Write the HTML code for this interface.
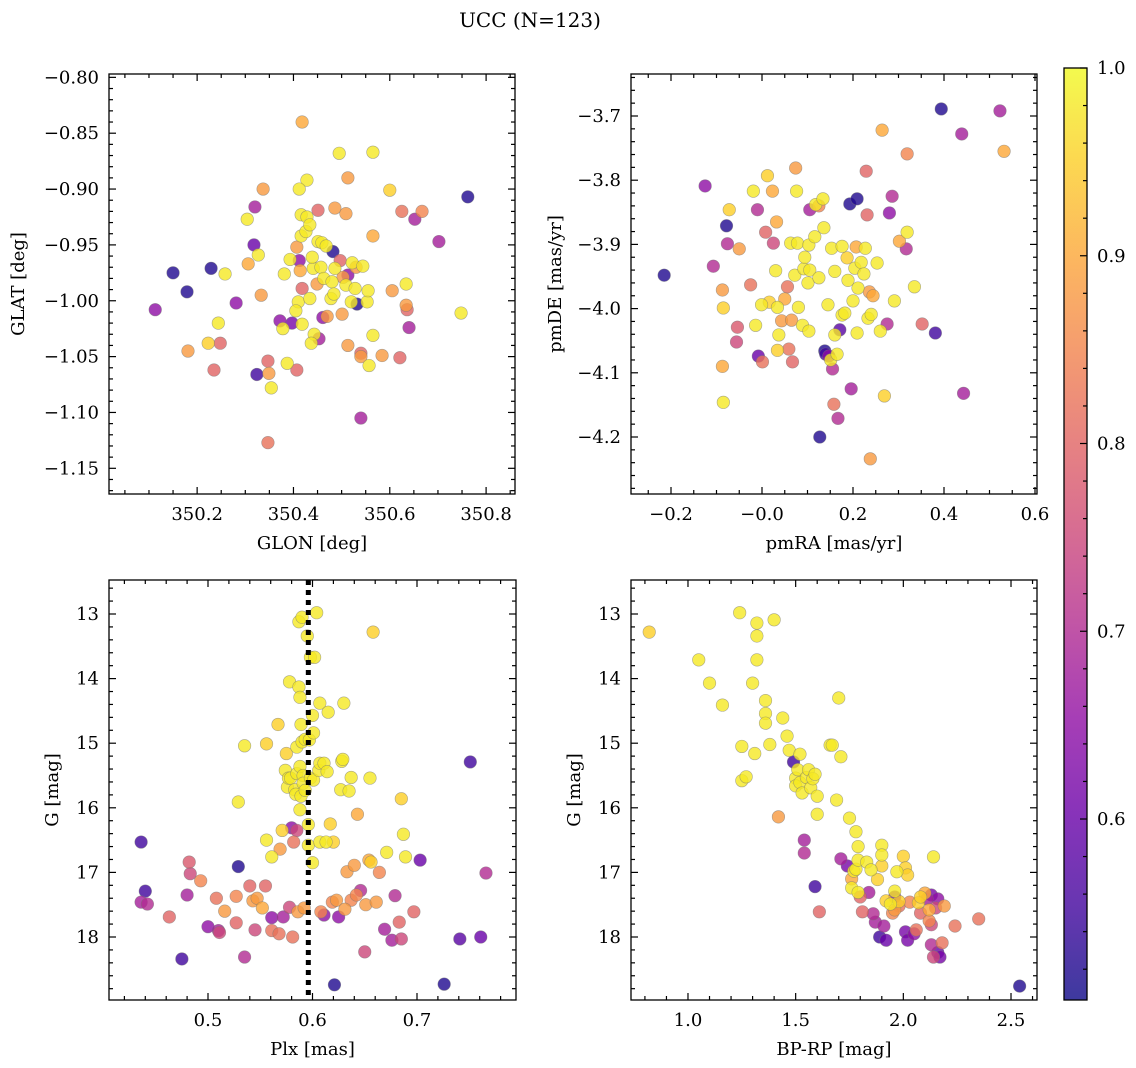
<!DOCTYPE html>
<html><head><meta charset="utf-8"><style>
html,body{margin:0;padding:0;background:#fff;}
svg{display:block;font-family:"DejaVu Serif","Liberation Serif",serif;}
</style></head><body>
<svg id="fig" width="1136" height="1068" viewBox="0 0 1136 1068" xmlns="http://www.w3.org/2000/svg">
<defs>
<linearGradient id="cbgrad" x1="0" y1="1" x2="0" y2="0"></linearGradient>
</defs>
<text x="530" y="27" font-size="20" text-anchor="middle">UCC (N=123)</text>
<g id="layer"></g>
</svg>
<script>
// ---- Panel data ----
const glon = [350.113,350.150,350.179,350.181,350.229,350.235,350.223,350.244,350.248,350.258,350.281,350.304,350.320,350.318,350.327,350.306,350.337,350.333,350.347,350.349,350.324,350.354,350.347,350.387,350.407,350.372,350.397,350.378,350.418,350.418,350.428,350.412,350.416,350.428,350.451,350.486,350.509,350.513,350.495,350.565,350.600,350.625,350.652,350.667,350.702,350.762,350.748,350.416,350.565,350.482,350.532,350.553,350.634,350.605,350.634,350.636,350.640,350.470,350.461,350.501,350.443,350.437,350.453,350.565,350.513,350.540,350.540,350.584,350.557,350.621,350.540,
350.407,350.412,350.414,350.418,350.410,350.441,350.449,350.451,350.459,350.457,350.463,350.468,350.480,350.478,350.486,350.484,350.503,350.513,350.509,350.522,350.530,350.528,350.520,350.544,350.555,350.434,350.497,350.439,350.426,350.434,350.393,350.381,350.405];
const glat = [-1.008,-0.975,-0.992,-1.045,-0.971,-1.062,-1.038,-1.020,-1.038,-0.976,-1.002,-0.927,-0.916,-0.950,-0.959,-0.967,-0.900,-0.995,-1.054,-1.065,-1.066,-1.078,-1.127,-1.056,-1.062,-1.018,-1.020,-1.025,-1.021,-0.840,-0.892,-0.900,-0.923,-0.925,-0.919,-0.917,-0.922,-0.890,-0.868,-0.867,-0.901,-0.920,-0.927,-0.920,-0.947,-0.907,-1.011,-0.942,-0.942,-0.956,-1.003,-1.001,-0.985,-0.991,-1.004,-1.008,-1.024,-1.014,-1.015,-1.012,-1.030,-1.038,-1.034,-1.031,-1.040,-1.047,-1.050,-1.049,-1.058,-1.051,-1.105,
-0.952,-0.964,-0.973,-0.989,-1.001,-0.971,-0.985,-0.947,-0.948,-0.970,-0.980,-0.951,-0.983,-0.998,-0.971,-0.994,-0.979,-0.977,-0.986,-0.966,-0.970,-0.989,-1.001,-0.969,-0.991,-0.998,-0.964,-0.961,-0.938,-0.932,-0.963,-0.976,-1.009];
const prob1 = [.65,.52,.52,.88,.52,.8,.95,.98,.8,.98,.65,.98,.68,.6,.98,.9,.88,.88,.8,.88,.55,.98,.82,.98,.8,.65,.62,.98,.98,.9,.98,.98,.98,.98,.8,.88,.88,.88,.98,.98,.95,.82,.68,.85,.68,.52,.98,.98,.9,.52,.52,.98,.98,.88,.88,.8,.68,.88,.65,.88,.98,.98,.68,.98,.88,.8,.88,.88,.98,.8,.68,
.88,.65,.9,.8,.98,.98,.88,.98,.98,.98,.98,.98,.98,.98,.98,.98,.88,.65,.98,.98,.88,.98,.98,.98,.98,.98,.8,.98,.98,.98,.98,.98,.98];

const pmra = [-0.215,-0.125,-0.107,-0.078,-0.072,-0.087,-0.085,-0.087,-0.085,-0.076,-0.056,-0.054,-0.050,-0.025,-0.019,-0.010,-0.014,-0.008,0.001,-0.001,0.008,0.012,0.016,0.023,0.025,0.032,0.030,0.034,0.037,0.034,0.043,0.050,0.056,0.059,0.063,0.065,0.067,0.072,0.074,0.076,0.078,0.080,0.089,0.092,0.094,0.101,0.103,0.103,0.105,0.105,0.116,0.118,0.125,0.125,0.127,0.134,0.136,0.138,0.140,0.145,0.147,0.151,0.153,0.155,0.158,0.160,0.160,0.167,0.165,0.171,0.176,0.176,0.182,0.187,0.189,0.193,0.196,0.200,0.204,0.207,0.209,0.209,0.211,0.218,0.224,0.229,0.227,0.231,0.233,0.236,0.238,0.240,0.244,0.253,0.260,0.264,0.269,0.275,0.280,0.286,0.291,0.302,0.319,0.317,0.319,0.335,0.352,0.381,0.394,0.439,0.443,0.523,0.532];
const pmde = [-3.948,-3.809,-3.934,-3.871,-3.846,-3.971,-3.999,-4.090,-4.146,-3.899,-4.052,-4.029,-3.907,-3.963,-3.817,-3.846,-4.026,-4.074,-4.083,-3.994,-3.881,-3.793,-3.990,-3.817,-3.898,-3.865,-3.941,-3.998,-4.041,-4.065,-4.019,-3.985,-3.966,-4.063,-3.898,-4.018,-4.083,-3.948,-3.781,-3.817,-3.898,-3.998,-4.026,-3.938,-3.920,-3.960,-4.035,-3.901,-3.846,-3.940,-3.888,-3.838,-3.840,-3.952,-4.200,-3.829,-3.874,-4.066,-4.071,-3.994,-4.074,-4.080,-3.906,-4.094,-4.149,-3.942,-4.041,-4.171,-4.071,-4.033,-3.903,-4.010,-4.007,-3.921,-3.956,-3.837,-4.125,-3.988,-3.937,-3.904,-3.829,-4.038,-3.968,-3.928,-3.946,-3.786,-3.906,-3.854,-4.015,-3.974,-4.234,-4.009,-3.980,-3.929,-4.035,-3.722,-4.136,-4.024,-3.851,-3.825,-3.988,-3.895,-3.759,-3.907,-3.881,-3.966,-4.024,-4.038,-3.689,-3.728,-4.132,-3.692,-3.755];
const prob2 = [.52,.65,.7,.52,.95,.88,.95,.9,.98,.7,.75,.78,.88,.82,.98,.7,.98,.6,.82,.98,.8,.95,.95,.9,.75,.9,.98,.98,.98,.95,.88,.9,.82,.82,.98,.88,.8,.98,.88,.98,.98,.98,.98,.98,.98,.98,.98,.98,.68,.98,.98,.98,.85,.98,.52,.98,.98,.52,.55,.98,.65,.98,.98,.7,.82,.98,.98,.7,.98,.58,.98,.98,.98,.95,.98,.52,.68,.98,.98,.9,.52,.98,.98,.98,.98,.8,.98,.8,.98,.88,.88,.98,.9,.98,.98,.9,.95,.7,.65,.7,.98,.9,.85,.7,.98,.98,.8,.55,.52,.68,.68,.68,.9];

const plx = [0.436,0.440,0.436,0.442,0.463,0.475,0.480,0.482,0.483,0.493,0.500,0.508,0.510,0.511,0.516,0.527,0.527,0.529,0.529,0.535,0.535,0.540,0.543,0.545,0.547,0.552,0.555,0.556,0.556,0.561,0.561,0.561,0.567,0.568,0.569,0.571,0.572,0.574,0.575,0.576,0.577,0.578,0.578,0.579,0.580,0.581,0.582,0.583,0.584,0.585,0.585,0.585,0.586,0.587,0.587,0.588,0.588,0.588,0.589,0.589,0.590,0.590,0.591,0.591,0.592,0.593,0.593,0.595,0.596,0.596,0.597,0.598,0.598,0.600,0.600,0.601,0.601,0.602,0.604,0.606,0.607,0.607,0.607,0.608,0.611,0.611,0.613,0.614,0.615,0.617,0.619,0.620,0.621,0.623,0.625,0.627,0.628,0.629,0.630,0.631,0.633,0.635,0.637,0.637,0.640,0.642,0.643,0.646,0.650,0.651,0.654,0.655,0.656,0.658,0.661,0.664,0.669,0.671,0.676,0.679,0.683,0.685,0.685,0.687,0.689,0.697,0.703,0.726,0.741,0.751,0.761,0.766];
const gmag3 = [16.53,17.29,17.46,17.49,17.69,18.34,17.35,16.84,17.02,17.13,17.84,17.40,17.90,17.93,17.60,17.37,17.78,16.91,15.91,18.31,15.04,17.21,17.44,17.89,17.40,17.55,17.21,16.50,15.01,17.90,17.70,16.76,14.71,17.95,16.64,16.35,17.69,15.42,15.16,15.68,15.54,14.05,17.54,15.54,16.31,18.00,16.53,15.72,15.79,16.35,15.47,15.06,17.61,13.12,14.13,15.36,16.03,14.29,15.82,14.71,13.05,14.98,15.50,15.62,17.55,15.73,14.94,13.34,16.58,16.26,14.95,15.54,13.67,16.85,14.57,14.84,15.57,13.67,12.98,15.42,15.31,14.38,16.53,17.61,17.66,15.31,16.53,15.44,14.52,16.25,17.46,16.53,18.74,17.43,17.69,15.72,15.28,15.25,14.38,17.57,16.99,15.74,15.53,17.43,16.89,17.35,16.10,17.28,18.23,17.50,16.81,15.54,16.84,13.28,17.46,17.00,17.88,16.69,18.05,17.36,17.77,18.03,15.86,16.41,16.76,17.61,16.81,18.73,18.03,15.29,18.00,17.01];
const prob3 = [.55,.55,.68,.7,.8,.55,.68,.78,.75,.85,.65,.82,.68,.75,.88,.85,.8,.52,.98,.7,.98,.8,.88,.75,.88,.9,.8,.98,.95,.82,.65,.98,.95,.82,.88,.95,.68,.98,.95,.98,.98,.98,.75,.98,.65,.82,.82,.98,.98,.75,.98,.98,.88,.98,.98,.98,.98,.98,.98,.98,.98,.98,.98,.98,.88,.98,.98,.98,.98,.98,.98,.98,.98,.98,.98,.98,.98,.98,.98,.98,.98,.98,.98,.85,.65,.98,.98,.98,.98,.95,.85,.95,.52,.88,.65,.98,.98,.98,.98,.88,.88,.98,.98,.85,.88,.85,.9,.7,.75,.88,.9,.98,.95,.95,.88,.85,.68,.98,.68,.7,.8,.75,.95,.98,.98,.8,.6,.52,.58,.55,.6,.7];
const plxRef = 0.596;

const bprp = [0.82,1.05,1.10,1.16,1.24,1.25,1.25,1.27,1.30,1.31,1.32,1.32,1.32,1.36,1.36,1.36,1.38,1.40,1.42,1.44,1.46,1.47,1.49,1.50,1.50,1.51,1.52,1.52,1.53,1.54,1.54,1.55,1.56,1.57,1.58,1.59,1.59,1.60,1.60,1.61,1.66,1.67,1.70,1.69,1.71,1.71,1.74,1.75,1.76,1.76,1.77,1.78,1.78,1.79,1.79,1.79,1.80,1.81,1.83,1.84,1.85,1.86,1.87,1.88,1.89,1.90,1.90,1.90,1.91,1.92,1.92,1.94,1.95,1.96,1.96,1.96,1.97,1.98,1.98,2.00,2.01,2.01,2.02,2.02,2.03,2.05,2.06,2.07,2.08,2.08,2.10,2.11,2.12,2.12,2.13,2.13,2.13,2.14,2.14,2.15,2.16,2.16,2.17,2.18,2.19,2.24,2.35,2.54];
const gmag4 = [13.28,13.71,14.07,14.41,12.98,15.05,15.58,15.52,14.07,15.16,13.34,13.14,13.71,14.34,14.54,14.69,15.02,13.09,16.14,14.61,14.89,15.11,15.29,15.54,15.66,15.41,15.17,15.61,15.77,16.50,16.70,15.53,15.41,15.69,15.55,17.22,15.48,15.82,16.10,17.61,15.03,15.03,14.30,15.88,15.21,16.79,16.90,16.16,17.10,17.24,16.98,16.37,16.95,16.60,16.81,17.31,17.38,17.61,16.84,17.31,16.96,17.64,17.77,17.11,18.00,16.58,16.73,16.90,17.83,18.05,17.44,17.49,17.63,17.29,17.38,17.58,16.99,17.45,17.52,16.75,17.92,16.93,17.04,18.05,17.46,17.95,17.89,17.47,17.63,17.38,17.32,17.41,17.75,17.58,17.35,17.81,18.12,16.76,18.31,17.55,17.41,18.24,18.31,18.09,17.52,17.83,17.72,18.76];
const prob4 = [.95,.98,.98,.98,.98,.98,.98,.98,.98,.98,.98,.98,.98,.98,.98,.98,.98,.98,.88,.98,.98,.98,.55,.98,.98,.98,.98,.98,.98,.68,.7,.98,.98,.98,.98,.55,.98,.98,.98,.8,.98,.98,.98,.98,.98,.68,.62,.98,.9,.98,.98,.98,.98,.98,.98,.98,.8,.8,.98,.68,.98,.7,.68,.95,.55,.98,.98,.95,.68,.6,.95,.98,.85,.98,.62,.88,.98,.95,.82,.95,.62,.95,.95,.62,.85,.65,.82,.95,.8,.95,.9,.68,.85,.9,.62,.75,.7,.98,.75,.75,.65,.6,.62,.82,.88,.82,.82,.52];

const cbTicks = [0.6,0.7,0.8,0.9,1.0];

// ---- Rendering ----
const NS = "http://www.w3.org/2000/svg";
const layer = document.getElementById('layer');
function mk(tag, attrs, parent){ const e=document.createElementNS(NS,tag); for(const k in attrs) e.setAttribute(k,attrs[k]); (parent||layer).appendChild(e); return e; }

const plasma = [[0,13,8,135],[.1,65,4,157],[.2,106,0,168],[.3,143,13,164],[.4,177,42,144],[.5,204,71,120],[.6,225,100,98],[.7,242,132,75],[.8,252,166,54],[.9,252,206,37],[1,240,249,33]];
function cmap(t){ t=Math.max(0,Math.min(1,t)); for(let i=1;i<plasma.length;i++){ if(t<=plasma[i][0]){ const a=plasma[i-1],b=plasma[i],f=(t-a[0])/(b[0]-a[0]); return `rgb(${Math.round(a[1]+f*(b[1]-a[1]))},${Math.round(a[2]+f*(b[2]-a[2]))},${Math.round(a[3]+f*(b[3]-a[3]))})`; } } return 'rgb(240,249,33)'; }
const VMIN=0.5036, VMAX=1.0;
const norm = p => (p-VMIN)/(VMAX-VMIN);

function fmt(v,d){ const s=v.toFixed(d); return s.replace('-','\u2212'); }

function panel(cfg){
  const {L,T,R,B,xmin,xmax,ymin,ymax,yinv,name} = cfg;
  const sx = v => L + (v-xmin)/(xmax-xmin)*(R-L);
  const sy = v => yinv ? T + (v-ymin)/(ymax-ymin)*(B-T) : B - (v-ymin)/(ymax-ymin)*(B-T);
  const g = mk('g',{});
  
  
  return {g,sx,sy,cfg};
}
function axes(P){
  const {g,sx,sy,cfg}=P; const {L,T,R,B,xmin,xmax,ymin,ymax,xMaj,xMin,yMaj,yMin,xd,yd,xlabel,ylabel} = cfg;
  const eps=1e-9;
  for(let v=Math.ceil(xmin/xMin-eps)*xMin; v<=xmax+eps; v+=xMin){ const x=sx(v); const isMaj=Math.abs(v/xMaj-Math.round(v/xMaj))<1e-6; const len=isMaj?7:4;
    mk('line',{x1:x,y1:B,x2:x,y2:B-len,stroke:'#000','stroke-width':1.2},g); mk('line',{x1:x,y1:T,x2:x,y2:T+len,stroke:'#000','stroke-width':1.2},g);
    if(isMaj){ const t=mk('text',{x:x,y:B+26,'font-size':18,'text-anchor':'middle'},g); t.textContent=fmt(v,xd);
        } }
  for(let v=Math.ceil(ymin/yMin-eps)*yMin; v<=ymax+eps; v+=yMin){ const y=sy(v); const isMaj=Math.abs(v/yMaj-Math.round(v/yMaj))<1e-6; const len=isMaj?7:4;
    mk('line',{x1:L,y1:y,x2:L+len,y2:y,stroke:'#000','stroke-width':1.2},g); mk('line',{x1:R,y1:y,x2:R-len,y2:y,stroke:'#000','stroke-width':1.2},g);
    if(isMaj){ const t=mk('text',{x:L-10,y:y+6,'font-size':18,'text-anchor':'end'},g); t.textContent=fmt(v,yd);
        } }
  mk('rect',{x:L,y:T,width:R-L,height:B-T,fill:'none',stroke:'#000','stroke-width':1.3},g);
  const xl=mk('text',{x:(L+R)/2,y:B+55,'font-size':18,'text-anchor':'middle'},g); xl.textContent=xlabel;
   
  const cx=cfg.ylx, cy=(T+B)/2;
  const yl=mk('text',{x:cx,y:cy,'font-size':18,'text-anchor':'middle',transform:`rotate(-90 ${cx} ${cy})`},g); yl.textContent=ylabel;
   
}
function scatter(P,xs,ys,ps){
  const {g,sx,sy,cfg}=P;
  const clip='clip-'+cfg.name;
  const cp=mk('clipPath',{id:clip},g); mk('rect',{x:cfg.L,y:cfg.T,width:cfg.R-cfg.L,height:cfg.B-cfg.T},cp);
  const pg=mk('g',{'clip-path':`url(#${clip})`},g);
  const idx=ps.map((p,i)=>i).sort((a,b)=>ps[a]-ps[b]);
  idx.forEach(i=>{
    const c=mk('circle',{cx:sx(xs[i]),cy:sy(ys[i]),r:6.3,fill:cmap(norm(ps[i])),'fill-opacity':0.8,stroke:'#777','stroke-opacity':0.6,'stroke-width':0.6},pg);
    
    
  });
  return pg;
}

const P1=panel({name:'glon-glat-panel',L:109,T:74,R:515,B:494,xmin:350.017,xmax:350.860,ymin:-1.173,ymax:-0.797,xMaj:0.2,xMin:0.05,yMaj:0.05,yMin:0.01,xd:1,yd:2,xlabel:'GLON [deg]',ylabel:'GLAT [deg]',ylx:24});
scatter(P1,glon,glat,prob1); axes(P1);

const P2=panel({name:'pmra-pmde-panel',L:631,T:74,R:1037,B:494,xmin:-0.2-40/455,xmax:-0.2+366/455,ymin:-4.2-57/642,ymax:-3.7+42/642,xMaj:0.2,xMin:0.05,yMaj:0.1,yMin:0.02,xd:1,yd:1,xlabel:'pmRA [mas/yr]',ylabel:'pmDE [mas/yr]',ylx:561});
scatter(P2,pmra,pmde,prob2); axes(P2);

const P3=panel({name:'plx-g-panel',L:109,T:580,R:516,B:1000,xmin:0.5-99/1045,xmax:0.5+308/1045,ymin:13-34/64.6,ymax:18+63/64.6,yinv:true,xMaj:0.1,xMin:0.02,yMaj:1,yMin:0.2,xd:1,yd:0,xlabel:'Plx [mas]',ylabel:'G [mag]',ylx:58});
const pg3=scatter(P3,plx,gmag3,prob3);
const ref=mk('line',{x1:P3.sx(plxRef),y1:580,x2:P3.sx(plxRef),y2:1000,stroke:'#000','stroke-width':5,'stroke-dasharray':'5 5'},pg3);


axes(P3);

const P4=panel({name:'bprp-g-panel',L:631,T:580,R:1037,B:1000,xmin:1.0-57/215.4,xmax:2.5+26/215.4,ymin:13-34/64.6,ymax:18+63/64.6,yinv:true,xMaj:0.5,xMin:0.1,yMaj:1,yMin:0.2,xd:1,yd:0,xlabel:'BP-RP [mag]',ylabel:'G [mag]',ylx:580});
scatter(P4,bprp,gmag4,prob4); axes(P4);

// colorbar
const cb=mk('g',{});  
const grad=document.getElementById('cbgrad');
for(let i=0;i<=20;i++){ const s=document.createElementNS(NS,'stop'); s.setAttribute('offset',i/20); s.setAttribute('stop-color',cmap(i/20)); s.setAttribute('stop-opacity',0.8); grad.appendChild(s); }
const cT=68,cB=1000,cL=1064,cR=1087;
mk('rect',{x:cL,y:cT,width:cR-cL,height:cB-cT,fill:'url(#cbgrad)'},cb);
const cy=v=>cB-(v-VMIN)/(VMAX-VMIN)*(cB-cT);
for(let v=0.52; v<=1.0001; v+=0.02){ const y=cy(v); const maj=cbTicks.some(t=>Math.abs(t-v)<1e-6);
  mk('line',{x1:cR,y1:y,x2:cR-(maj?7:4),y2:y,stroke:'#000','stroke-width':1.2},cb); }
cbTicks.forEach(v=>{ const t=mk('text',{x:cR+10,y:cy(v)+6,'font-size':18},cb); t.textContent=v.toFixed(1);
    });
mk('rect',{x:cL,y:cT,width:cR-cL,height:cB-cT,fill:'none',stroke:'#000','stroke-width':1.3},cb);
</script>
</body></html>
